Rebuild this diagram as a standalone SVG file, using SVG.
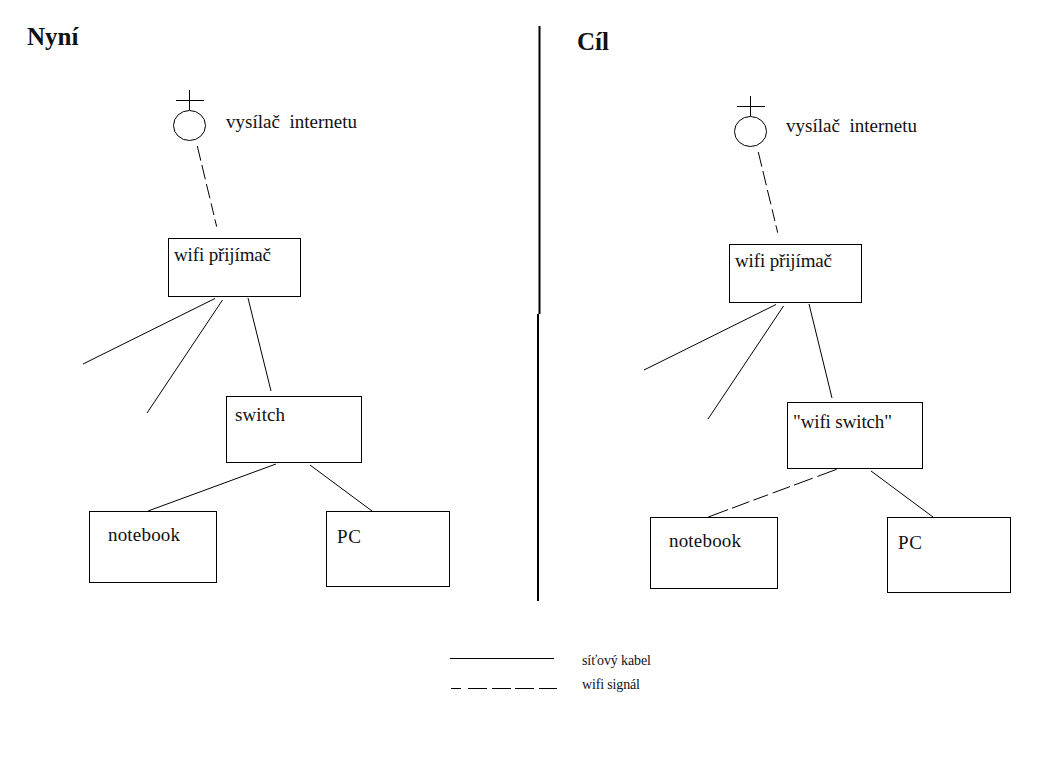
<svg xmlns="http://www.w3.org/2000/svg" width="1058" height="766" viewBox="0 0 1058 766">
<style>
rect.b{fill:#fff;stroke:#000;stroke-width:1}
.c line,.c path{stroke:#000;stroke-width:1;fill:none}
.i line{stroke:#000;stroke-width:1}
.i ellipse{fill:#fff;stroke:#000;stroke-width:1}
text{font-family:"Liberation Serif","Times New Roman",serif;fill:#111;white-space:pre}
.t{font-size:19px}
.h{font-size:25px;font-weight:bold}
.s{font-size:14px}
</style>
<rect width="1058" height="766" fill="#fff"/>
<g id="connectors" class="c">
<path d="M197.300 146L200.800 160.700M201.900 165L205.300 179.300M206.400 184L209.900 198.300M211.100 203.300L213.900 215M214.900 219.300L216.700 226.700"/>
<line x1="215" y1="298.500" x2="83" y2="364"/>
<line x1="222.500" y1="300" x2="147" y2="413"/>
<line x1="248" y1="298" x2="271" y2="391"/>
<line x1="276" y1="464" x2="148" y2="511"/>
<line x1="310" y1="465" x2="372" y2="511"/>
<path d="M758.300 152L761.800 166.700M762.900 171L766.300 185.300M767.400 190L770.900 204.300M772.100 209.300L774.900 221M775.900 225.300L777.700 232.700"/>
<line x1="776" y1="304.500" x2="644" y2="370"/>
<line x1="783.500" y1="306" x2="708" y2="419"/>
<line x1="809" y1="304" x2="832" y2="398"/>
<path d="M836.700 469.300L817.300 476.500M812.700 478.200L794 485.100M790 486.600L772.700 493M768 494.800L753.300 500.200M749.300 501.700L732 508.200M728 509.600L708.300 517"/>
<line x1="871" y1="471" x2="933" y2="517"/>
<line x1="450" y1="658.500" x2="554" y2="658.500"/>
<path d="M451 688.500H461M468 688.500H487M492 688.500H511M515 688.500H534M539 688.500H557"/>
</g>
<g id="dividers">
<line x1="539.500" y1="26" x2="539.500" y2="314" stroke="#000" stroke-width="2"/>
<line x1="538" y1="314" x2="538" y2="601" stroke="#000" stroke-width="2"/>
</g>
<g id="title-nyni"><text class="h" x="27" y="45">Nyní</text></g>
<g id="title-cil"><text class="h" x="577" y="50">Cíl</text></g>
<g id="tower-left" class="i">
<line x1="189.500" y1="90" x2="189.500" y2="110"/>
<line x1="176" y1="100.500" x2="204" y2="100.500"/>
<ellipse cx="189.500" cy="125.500" rx="16" ry="15"/>
<text class="t" x="226" y="128" textLength="131">vysílač  internetu</text>
</g>
<g id="wifi-left"><rect class="b" x="168.500" y="238.500" width="132" height="58"/><text class="t" x="174" y="261" textLength="97">wifi přijímač</text></g>
<g id="switch-left"><rect class="b" x="226.500" y="396.500" width="135" height="66"/><text class="t" x="235" y="421" textLength="50">switch</text></g>
<g id="notebook-left"><rect class="b" x="89.500" y="511.500" width="127" height="71"/><text class="t" x="108" y="541" textLength="72">notebook</text></g>
<g id="pc-left"><rect class="b" x="326.500" y="511.500" width="123" height="75"/><text class="t" x="337" y="543" textLength="24">PC</text></g>
<g id="tower-right" class="i">
<line x1="750.500" y1="96" x2="750.500" y2="116"/>
<line x1="737" y1="106.500" x2="765" y2="106.500"/>
<ellipse cx="750.500" cy="131.500" rx="16" ry="15"/>
<text class="t" x="786" y="132" textLength="131">vysílač  internetu</text>
</g>
<g id="wifi-right"><rect class="b" x="729.500" y="244.500" width="132" height="58"/><text class="t" x="735" y="267" textLength="97">wifi přijímač</text></g>
<g id="switch-right"><rect class="b" x="787.500" y="402.500" width="135" height="66"/><text class="t" x="793" y="428" textLength="99">"wifi switch"</text></g>
<g id="notebook-right"><rect class="b" x="650.500" y="517.500" width="127" height="71"/><text class="t" x="669" y="547" textLength="72">notebook</text></g>
<g id="pc-right"><rect class="b" x="887.500" y="517.500" width="123" height="75"/><text class="t" x="898" y="549" textLength="24">PC</text></g>
<g id="legend">
<text class="s" x="582" y="665" textLength="69">síťový kabel</text>
<text class="s" x="582" y="689" textLength="58">wifi signál</text>
</g>
</svg>
